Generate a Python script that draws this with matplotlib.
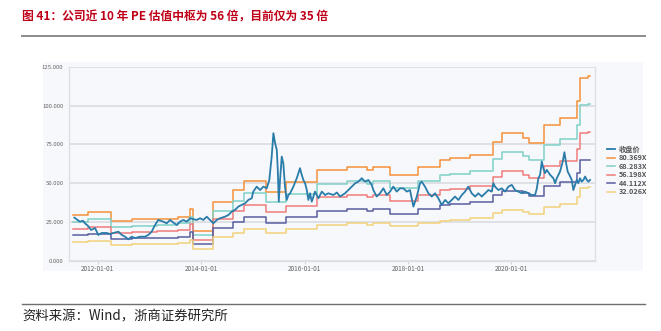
import matplotlib
matplotlib.use('Agg')
import matplotlib.pyplot as plt
import pandas as pd
from matplotlib.patches import Rectangle
from matplotlib.lines import Line2D

plt.rcParams['font.family'] = ['Noto Sans CJK SC', 'DejaVu Sans']

title = '图 41：公司近 10 年 PE 估值中枢为 56 倍，目前仅为 35 倍'
source = '资料来源：Wind，浙商证券研究所'

# PE band multiples (legend)
pe_multiples = [80.369, 68.283, 56.198, 44.112, 32.026]
band_labels = ['80.369X', '68.283X', '56.198X', '44.112X', '32.026X']
band_colors = ['#f5913a', '#80d0c7', '#f07b7b', '#5a5e9e', '#f2d27c']
price_color = '#2a7caa'

eps_dates = ['2011-07-08', '2011-10-22', '2012-04-01', '2012-08-28', '2013-02-20',
             '2013-07-20', '2013-10-14', '2013-11-04', '2014-03-25', '2014-08-12',
             '2014-10-27', '2015-04-01', '2015-08-26', '2016-03-30', '2016-10-25',
             '2017-03-15', '2017-04-28', '2017-08-26', '2018-03-14', '2018-08-15',
             '2018-10-24', '2019-03-14', '2019-08-23', '2019-10-24', '2020-03-26',
             '2020-05-08', '2020-08-19', '2020-12-10', '2021-04-11', '2021-04-30',
             '2021-06-28', '2021-07-12']
eps_values = [0.3695, 0.3895, 0.3185, 0.3322, 0.3384,
              0.3534, 0.4168, 0.2389, 0.4741, 0.5661,
              0.6408, 0.5549, 0.6321, 0.7266, 0.7553,
              0.7291, 0.7553, 0.6893, 0.7553, 0.8088,
              0.8225, 0.8523, 0.9568, 1.0265, 0.9892,
              0.9481, 1.0912, 1.1497, 1.2841, 1.4707,
              1.4794, 1.4794]

# closing price
price_dates = ['2011-07-20', '2011-08-08', '2011-08-29', '2011-09-19', '2011-10-03',
               '2011-10-24', '2011-11-15', '2011-12-13', '2012-01-05', '2012-01-29',
               '2012-03-05', '2012-03-28', '2012-04-20', '2012-05-26', '2012-06-19',
               '2012-07-12', '2012-08-04', '2012-08-28', '2012-09-21', '2012-10-26',
               '2012-11-30', '2012-12-23', '2013-01-16', '2013-02-09', '2013-03-04',
               '2013-04-08', '2013-05-02', '2013-05-26', '2013-06-18', '2013-07-12',
               '2013-08-04', '2013-08-28', '2013-09-21', '2013-10-14', '2013-11-06',
               '2013-11-30', '2013-12-24', '2014-01-16', '2014-02-09', '2014-03-04',
               '2014-03-28', '2014-04-21', '2014-05-14', '2014-06-18', '2014-07-12',
               '2014-08-05', '2014-08-28', '2014-09-20', '2014-11-07', '2014-11-30',
               '2014-12-24', '2015-01-04', '2015-01-28', '2015-02-21', '2015-03-16',
               '2015-04-09', '2015-04-27', '2015-05-14', '2015-05-26', '2015-06-07',
               '2015-06-19', '2015-06-26', '2015-07-03', '2015-07-12', '2015-07-24',
               '2015-08-04', '2015-08-16', '2015-08-28', '2015-09-09', '2015-09-21',
               '2015-10-14', '2015-11-07', '2015-11-30', '2015-12-12', '2015-12-24',
               '2016-01-05', '2016-01-17', '2016-01-28', '2016-02-09', '2016-02-21',
               '2016-03-15', '2016-04-08', '2016-05-02', '2016-05-25', '2016-06-17',
               '2016-07-23', '2016-08-16', '2016-09-08', '2016-10-13', '2016-11-05',
               '2016-11-30', '2016-12-23', '2017-01-15', '2017-02-08', '2017-03-03',
               '2017-03-27', '2017-04-20', '2017-05-01', '2017-05-25', '2017-06-17',
               '2017-07-11', '2017-08-04', '2017-08-27', '2017-09-19', '2017-10-13',
               '2017-11-06', '2017-11-29', '2017-12-23', '2018-01-15', '2018-02-08',
               '2018-03-04', '2018-03-27', '2018-04-08', '2018-05-01', '2018-05-25',
               '2018-06-18', '2018-07-11', '2018-08-03', '2018-08-27', '2018-09-20',
               '2018-10-13', '2018-11-06', '2018-11-29', '2018-12-23', '2019-01-16',
               '2019-02-08', '2019-03-03', '2019-03-27', '2019-04-20', '2019-05-13',
               '2019-06-06', '2019-06-29', '2019-07-23', '2019-08-16', '2019-08-27',
               '2019-09-08', '2019-10-01', '2019-10-25', '2019-11-18', '2019-12-11',
               '2020-01-04', '2020-01-27', '2020-02-19', '2020-03-15', '2020-04-07',
               '2020-04-30', '2020-05-24', '2020-06-17', '2020-06-29', '2020-07-10',
               '2020-07-22', '2020-08-03', '2020-08-14', '2020-08-26', '2020-09-07',
               '2020-10-01', '2020-10-24', '2020-11-05', '2020-11-17', '2020-12-10',
               '2020-12-29', '2021-01-10', '2021-01-22', '2021-02-02', '2021-02-14',
               '2021-03-03', '2021-03-14', '2021-03-26', '2021-04-07', '2021-04-18',
               '2021-04-30', '2021-05-12', '2021-05-24', '2021-06-05', '2021-06-17',
               '2021-06-28', '2021-07-10']
price_values = [27.8, 26.5, 25.2, 25.8, 24.1,
                22.5, 19.8, 21.1, 16.6, 17.9,
                17.9, 17.2, 17.9, 18.7, 16.6,
                15.5, 13.8, 15.5, 14.6, 15.5,
                15.5, 16.6, 18.7, 23.1, 26.3,
                25.2, 24.1, 26.3, 24.6, 23.1,
                25.2, 26.3, 25.2, 27.4, 26.8,
                26.3, 27.4, 26.3, 28.4, 26.3,
                24.1, 26.3, 27.4, 28.4, 29.5,
                31.7, 32.8, 34.9, 37.1, 39.2,
                40.3, 44.6, 47.8, 45.6, 47.8,
                46.7, 52.1, 67.2, 82.3, 75.8,
                71.5, 58.6, 38.1, 52.1, 67.2,
                62.9, 47.8, 39.2, 42.4, 43.5,
                47.8, 53.2, 59.7, 55.4, 52.1,
                49.9, 45.6, 39.2, 43.5, 38.1,
                44.6, 40.3, 44.6, 42.4, 43.5,
                42.4, 44.0, 41.4, 43.5, 45.6,
                47.8, 49.9, 51.0, 53.2, 51.0,
                52.1, 48.9, 45.6, 41.4, 43.5,
                46.7, 42.4, 44.6, 47.8, 44.6,
                46.7, 46.7, 44.6, 45.6, 34.9,
                41.4, 50.0, 51.0, 47.8, 43.5,
                41.4, 43.5, 40.3, 36.0, 39.2,
                37.1, 39.2, 41.4, 39.2, 42.4,
                44.6, 47.8, 43.5, 41.4, 43.5,
                41.4, 43.5, 45.6, 44.6, 50.0,
                47.8, 45.6, 46.7, 44.6, 47.8,
                48.9, 45.6, 44.6, 43.5, 44.6,
                43.5, 42.4, 42.4, 46.7, 53.2,
                55.4, 64.0, 59.7, 56.5, 58.6,
                55.4, 53.2, 50.0, 53.2, 57.5,
                64.0, 70.0, 62.9, 57.5, 55.4,
                52.1, 45.6, 48.9, 52.1, 50.0,
                53.2, 51.0, 52.1, 54.3, 52.1,
                51.0, 52.1]

y_ticks = [0, 25, 50, 75, 100, 125]
x_ticks = ['2012-01-01', '2014-01-01', '2016-01-01', '2018-01-01', '2020-01-01']

W, H = 661, 331
fig = plt.figure(figsize=(W / 100, H / 100), dpi=100)

# title + rules
fig.text(22 / W, 1 - 17 / H, title, color='#c00018', fontsize=8.5,
         fontweight='bold', va='center', ha='left')
fig.add_artist(Line2D([22 / W, 645 / W], [1 - 36 / H, 1 - 36 / H],
                      color='#8c8c8c', lw=1.4))
fig.add_artist(Line2D([22 / W, 645 / W], [1 - 303.5 / H, 1 - 303.5 / H],
                      color='#6e6e6e', lw=1.0))
fig.text(22 / W, 1 - 316 / H, source, color='#222222', fontsize=9.6,
         va='center', ha='left')

# light chart panel
fig.add_artist(Rectangle((43 / W, 1 - 271 / H), 600 / W, 209 / H,
                         transform=fig.transFigure, facecolor='#f7f8fb',
                         edgecolor='none', zorder=0))

ax = fig.add_axes([69 / W, 1 - 260.7 / H, 526 / W, 193.7 / H])
ax.set_facecolor('#f7f8fb')

pd_price = pd.to_datetime(price_dates)
pd_eps = pd.to_datetime(eps_dates)
eps = pd.Series(eps_values, index=pd_eps)

ax.plot(pd_price, price_values, color=price_color, lw=1.3, label='收盘价', zorder=3)
for m, lab, c in zip(pe_multiples, band_labels, band_colors):
    ax.step(pd_eps, eps * m, where='post', color=c, lw=1.1, label=lab, zorder=2)

ax.set_ylim(0, 125)
ax.set_yticks(y_ticks)
ax.set_yticklabels([f'{v:.3f}' for v in y_ticks])
ax.set_xlim(pd.Timestamp('2011-06-12'), pd.Timestamp('2021-08-14'))
ax.set_xticks(pd.to_datetime(x_ticks))
ax.set_xticklabels(x_ticks)
ax.grid(axis='y', color='#dcdee3', lw=1.3)
ax.set_axisbelow(True)
for s in ['left', 'bottom', 'right']:
    ax.spines[s].set_color('#dcdfe4')
    ax.spines[s].set_linewidth(1.0)
ax.spines['top'].set_visible(False)
ax.tick_params(axis='y', length=0, pad=4, labelsize=4.3, labelcolor='#666666')
ax.tick_params(axis='x', length=2, width=0.6, color='#cccccc', pad=1,
               labelsize=4.6, labelcolor='#666666')

leg = ax.legend(loc='upper left', bbox_to_anchor=(603 / W, 1 - 142 / H),
                bbox_transform=fig.transFigure, frameon=False, fontsize=5.2,
                handlelength=1.2, handletextpad=0.5, labelspacing=0.2,
                borderpad=0)
for t in leg.get_texts():
    t.set_color('#555555')
    t.set_fontweight('bold')

fig.savefig('out.png', dpi=100)
